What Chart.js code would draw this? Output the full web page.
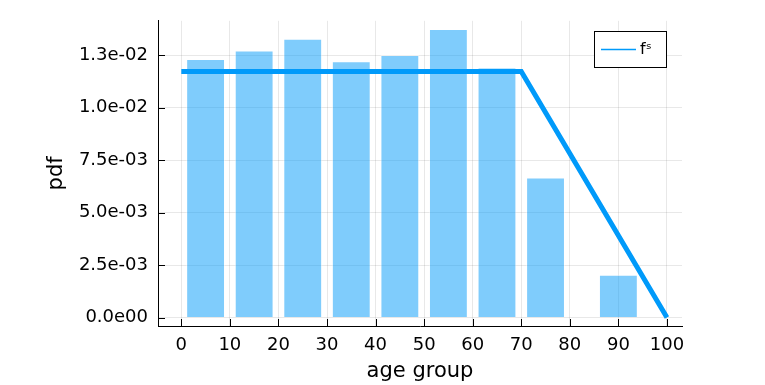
<!DOCTYPE html>
<html>
<head>
<meta charset="utf-8">
<script src="https://cdn.jsdelivr.net/npm/chart.js@4.4.0/dist/chart.umd.min.js"></script>
<style>
  html, body { margin: 0; padding: 0; background: #fff; }
  #wrap { width: 765px; height: 385px; }
</style>
</head>
<body>
<div id="wrap"><canvas id="pdfChart" width="765" height="385"></canvas></div>
<script>
// histogram of age groups (bar centres) and their pdf values
const ageGroups = [5, 15, 25, 35, 45, 55, 65, 75, 90];
const pdfValues = [0.01231, 0.01272, 0.01327, 0.01220, 0.01250, 0.01374, 0.01191, 0.00667, 0.00204];

// fitted density f^s
const fsX = [0, 70, 100];
const fsY = [0.01172, 0.01172, 0];

// axis ticks
const xTickValues = [0, 10, 20, 30, 40, 50, 60, 70, 80, 90, 100];
const yTickValues = [0, 0.0025, 0.005, 0.0075, 0.01, 0.0125];
const yTickLabels = ["0.0e00", "2.5e-03", "5.0e-03", "7.5e-03", "1.0e-02", "1.3e-02"];

const legendLabel = "fˢ";
const fontFamily = "'DejaVu Sans', sans-serif";

// Plots.jl style inward tick marks + framed legend
const innerTicks = {
    id: "innerTicks",
    afterDraw(chart) {
        const ctx = chart.ctx;
        const area = chart.chartArea;
        const xs = chart.scales.x;
        const ys = chart.scales.y;
        ctx.save();
        ctx.strokeStyle = "#000";
        ctx.lineWidth = 1;
        ctx.beginPath();
        xTickValues.forEach((v) => {
            const px = Math.round(xs.getPixelForValue(v)) + 0.5;
            ctx.moveTo(px, area.bottom);
            ctx.lineTo(px, area.bottom - 7);
        });
        yTickValues.forEach((v) => {
            const py = Math.round(ys.getPixelForValue(v)) + 0.5;
            ctx.moveTo(area.left, py);
            ctx.lineTo(area.left + 7, py);
        });
        ctx.stroke();

        // legend box
        const bx = 594.5, by = 31.5, bw = 72, bh = 36;
        ctx.fillStyle = "#fff";
        ctx.fillRect(bx, by, bw, bh);
        ctx.strokeRect(bx, by, bw, bh);
        ctx.strokeStyle = "#009AFA";
        ctx.lineWidth = 1.5;
        ctx.beginPath();
        ctx.moveTo(601, by + bh / 2);
        ctx.lineTo(636, by + bh / 2);
        ctx.stroke();
        ctx.fillStyle = "#000";
        ctx.font = "16px " + fontFamily;
        ctx.textBaseline = "middle";
        ctx.textAlign = "left";
        ctx.fillText(legendLabel, 640, by + bh / 2);
        ctx.restore();
    },
};

const ctx = document.getElementById("pdfChart").getContext("2d");
const pdfChart = new Chart(ctx, {
    data: {
        datasets: [
            {
                type: "line",
                label: legendLabel,
                data: fsX.map((x, i) => ({ x: x, y: fsY[i] })),
                borderColor: "#009AFA",
                borderWidth: 5,
                pointRadius: 0,
                fill: false,
                tension: 0,
                order: 0,
            },
            {
                type: "bar",
                label: "age group",
                data: ageGroups.map((x, i) => ({ x: x, y: pdfValues[i] })),
                backgroundColor: "rgba(0, 154, 250, 0.5)",
                borderColor: "rgba(255, 255, 255, 0.35)",
                borderWidth: 1,
                barPercentage: 0.8,
                categoryPercentage: 1.0,
                order: 1,
            },
        ],
    },
    options: {
        responsive: false,
        animation: false,
        layout: { padding: { top: 20, right: 83, left: 0, bottom: 0 } },
        plugins: {
            legend: { display: false },
            tooltip: { enabled: false },
        },
        scales: {
            x: {
                type: "linear",
                offset: false,
                min: -4.8,
                max: 103.1,
                afterBuildTicks: (scale) => {
                    scale.ticks = xTickValues.map((v) => ({ value: v }));
                },
                afterFit: (scale) => { scale.height = 59; },
                grid: { color: "rgba(0,0,0,0.09)", drawTicks: false, offset: false },
                border: { display: true, color: "#000", width: 1 },
                ticks: {
                    color: "#000",
                    padding: 9,
                    maxRotation: 0,
                    font: { family: fontFamily, size: 18 },
                    callback: (v) => String(v),
                },
                title: {
                    display: true,
                    text: "age group",
                    color: "#000",
                    font: { family: fontFamily, size: 21 },
                    padding: { top: 0, bottom: 1 },
                },
            },
            y: {
                min: -0.0004,
                max: 0.01413,
                afterBuildTicks: (scale) => {
                    scale.ticks = yTickValues.map((v) => ({ value: v }));
                },
                afterFit: (scale) => { scale.width = 158; },
                grid: { color: "rgba(0,0,0,0.09)", drawTicks: false },
                border: { display: true, color: "#000", width: 1 },
                ticks: {
                    color: "#000",
                    padding: 10,
                    font: { family: fontFamily, size: 18 },
                    callback: (v, i) => yTickLabels[i],
                },
                title: {
                    display: true,
                    text: "pdf",
                    color: "#000",
                    font: { family: fontFamily, size: 21 },
                    padding: { top: 44, bottom: 0 },
                },
            },
        },
    },
    plugins: [innerTicks],
});
</script>
</body>
</html>
